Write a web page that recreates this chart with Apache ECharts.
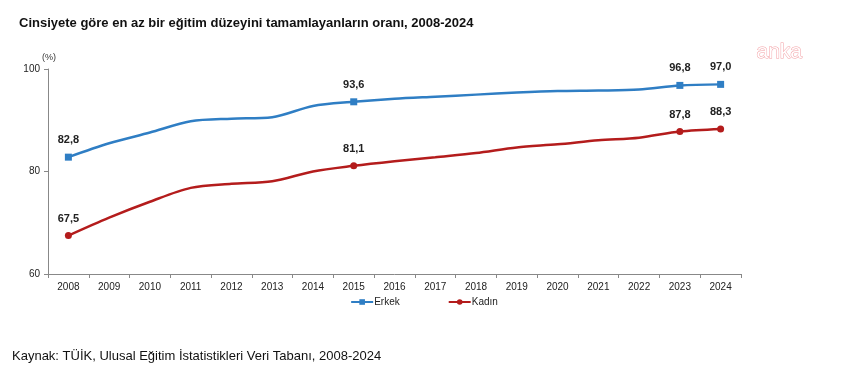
<!DOCTYPE html>
<html><head><meta charset="utf-8">
<script src="https://cdn.jsdelivr.net/npm/echarts@6/dist/echarts.min.js"></script>
<style>html,body{margin:0;padding:0;background:#fff}#c{width:848px;height:376px}</style>
</head><body><div id="c"></div>
<script>
const years = ['2008','2009','2010','2011','2012','2013','2014','2015','2016','2017','2018','2019','2020','2021','2022','2023','2024'];
const erkek = [82.8,85.5,87.6,89.8,90.3,90.6,92.8,93.6,94.2,94.6,95.0,95.4,95.7,95.8,96.0,96.8,97.0];
const kadin = [67.5,71.0,74.1,76.8,77.6,78.1,80.0,81.1,82.0,82.8,83.6,84.7,85.3,86.1,86.6,87.8,88.3];
const labeledYears = ['2008','2015','2023','2024'];
const yTicks = [60,80,100];

const chart = echarts.init(document.getElementById('c'));
function mkData(vals){
  return vals.map((v,i)=>{
    const show = labeledYears.includes(years[i]);
    return {value:v, symbolSize: show?7:0, label:{show:show}};
  });
}
const FONT = 'Liberation Sans';
const lbl = {position:'top',distance:8,formatter:p=>p.value.toFixed(1).replace('.',','),fontFamily:FONT,fontSize:11,fontWeight:'bold',color:'#222'};
chart.setOption({
  animation:false,
  title:{text:'Cinsiyete göre en az bir eğitim düzeyini tamamlayanların oranı, 2008-2024',left:14,top:12,
    textStyle:{fontFamily:FONT,fontSize:13,fontWeight:'bold',color:'#111'}},
  graphic:[
    {type:'text',left:12,top:350,style:{text:'Kaynak: TÜİK, Ulusal Eğitim İstatistikleri Veri Tabanı, 2008-2024',font:'13px "Liberation Sans"',fill:'#111'}},
    {type:'text',left:42,top:53,style:{text:'(%)',font:'9px "Liberation Sans"',fill:'#333'}},
    {type:'text',left:756,top:41,style:{text:'anka',font:'21px "Liberation Sans"',fill:'#fff',stroke:'#f3a0a5',lineWidth:1}}
  ],
  legend:{bottom:64,left:'center',itemGap:48,itemWidth:22,itemHeight:7,
    textStyle:{fontFamily:FONT,fontSize:10,color:'#222',padding:[0,0,0,-4]},
    data:['Erkek','Kadın']},
  grid:{left:48,right:107,top:69,bottom:102},
  xAxis:{type:'category',data:years,boundaryGap:true,
    axisLine:{lineStyle:{color:'#888'}},axisTick:{show:true,lineStyle:{color:'#888'},length:4},
    axisLabel:{fontFamily:FONT,fontSize:10,color:'#222',margin:8}},
  yAxis:{type:'value',min:60,max:100,interval:20,
    axisLine:{show:true,lineStyle:{color:'#888'}},axisTick:{show:true,length:4,lineStyle:{color:'#888'}},
    splitLine:{show:false},
    axisLabel:{fontFamily:FONT,fontSize:10,color:'#222',margin:8}},
  series:[
    {name:'Erkek',type:'line',smooth:0.3,data:mkData(erkek),symbol:'rect',color:'#2f7ec4',
      lineStyle:{width:2.5,color:'#2f7ec4'},itemStyle:{color:'#2f7ec4'},label:lbl},
    {name:'Kadın',type:'line',smooth:0.3,data:mkData(kadin),symbol:'circle',color:'#b41c1c',
      lineStyle:{width:2.5,color:'#b41c1c'},itemStyle:{color:'#b41c1c'},label:lbl}
  ]
});
</script></body></html>
